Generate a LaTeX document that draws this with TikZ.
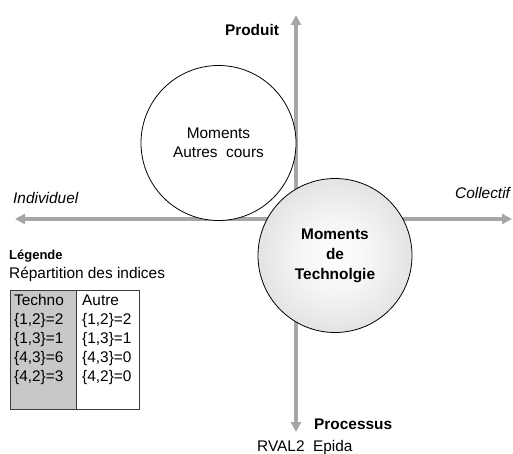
\documentclass[tikz,border=0pt]{standalone}
\usepackage{fontspec}
\setmainfont{Liberation Sans}
\usetikzlibrary{arrows.meta}
\definecolor{axisgray}{HTML}{A6A6A6}
\definecolor{cellgray}{HTML}{C8C8C8}
\definecolor{framegray}{HTML}{3C3C3C}
\pgfdeclareradialshading{techshade}{\pgfpointorigin}{color(0bp)=(white); color(12bp)=(white!96!black); color(50bp)=(black!24)}
\tikzset{
  axe/.style={draw=axisgray, line width=4pt,
    {Triangle[width=10pt,length=10pt]}-{Triangle[width=10pt,length=10pt]}},
  txt/.style={font=\fontsize{15.4}{19}\selectfont, inner sep=0pt},
  gras/.style={font=\fontsize{15.4}{20}\selectfont\bfseries, inner sep=0pt},
  penche/.style={font=\fontsize{15.4}{19}\selectfont\itshape, inner sep=0pt},
  rond/.style={circle, draw=black, line width=0.8pt, inner sep=0pt, align=center},
  colonne/.style={draw=framegray, line width=1.2pt, anchor=north west,
    minimum height=119pt, inner sep=0pt}
}
\begin{document}
\begin{tikzpicture}[x=1pt,y=-1pt]
      \useasboundingbox (0,0) rectangle (513,454);
      % axes
      \coordinate (gauche) at (15,219);
      \coordinate (droite) at (512,219);
      \coordinate (haut) at (296,15);
      \coordinate (bas) at (296,432);
      \draw[axe] (gauche) -- (droite);
      \draw[axe] (bas) -- (haut);
      % cercles
      \node[rond, fill=white, minimum size=155pt, txt] (autres) at (218.5,143)
        {Moments\\Autres\ \ cours};
      \node[rond, shading=techshade, minimum size=154pt, gras] (techno) at (335,255.5)
        {Moments\\de\\Technolgie};
      % titres des axes
      \node[gras] (produit) at (252,30) {Produit};
      \node[gras, anchor=base west] (processus) at (314,429.5) {Processus};
      \node[txt, anchor=base west] (source) at (257,451.5) {RVAL2\ \ Epida};
      \node[penche, anchor=base west] (individuel) at (13,203.5) {Individuel};
      \node[penche, anchor=base west] (collectif) at (455,198.5) {Collectif};
      % legende
      \node[font=\fontsize{13}{15}\selectfont\bfseries, inner sep=0pt, anchor=base west]
        (legende) at (9,259.5) {Légende};
      \node[txt, anchor=base west] (repartition) at (9,278.5) {Répartition des indices};
      \node[colonne, fill=cellgray, minimum width=66.5pt] (coltechno) at (9.5,290) {};
      \node[colonne, fill=white, minimum width=63pt] (colautre) at (76,290) {};
      \node[txt, anchor=base west] (t0) at (14,305.5) {Techno};
      \node[txt, anchor=base west] (t1) at (14,324.5) {\{1,2\}=2};
      \node[txt, anchor=base west] (t2) at (14,343.5) {\{1,3\}=1};
      \node[txt, anchor=base west] (t3) at (14,362.5) {\{4,3\}=6};
      \node[txt, anchor=base west] (t4) at (14,381.5) {\{4,2\}=3};
      \node[txt, anchor=base west] (a0) at (82,305.5) {Autre};
      \node[txt, anchor=base west] (a1) at (82,324.5) {\{1,2\}=2};
      \node[txt, anchor=base west] (a2) at (82,343.5) {\{1,3\}=1};
      \node[txt, anchor=base west] (a3) at (82,362.5) {\{4,3\}=0};
      \node[txt, anchor=base west] (a4) at (82,381.5) {\{4,2\}=0};
    \end{tikzpicture}
\end{document}
